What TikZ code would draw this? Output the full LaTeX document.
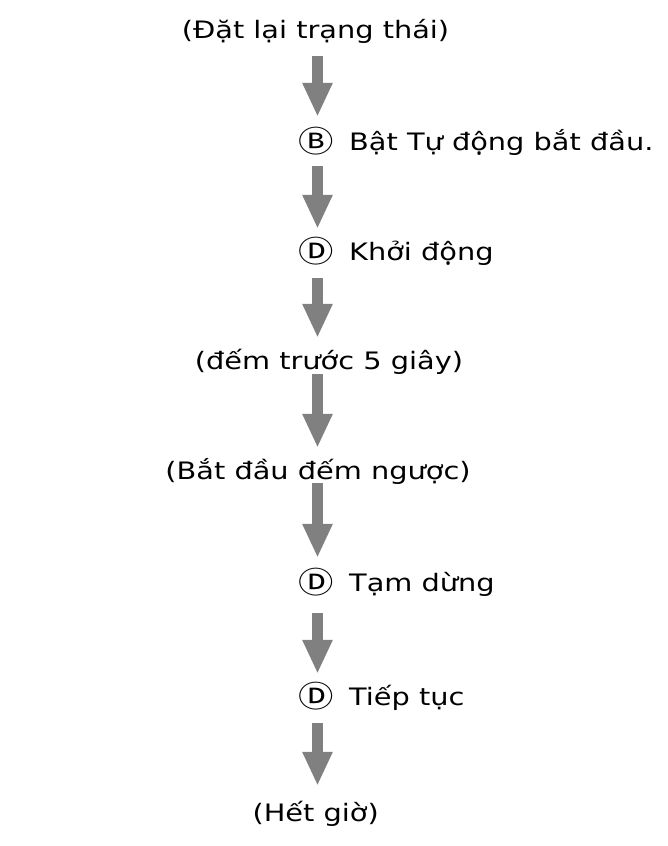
\documentclass[tikz,border=0pt]{standalone}
\usepackage{fontspec}
\setmainfont[FakeStretch=1.2]{DejaVu Sans}
\newfontfamily\keyfont[FakeStretch=1.18]{Noto Sans CJK JP}
\usetikzlibrary{arrows.meta}
\definecolor{arrowGray}{HTML}{808080}
\tikzset{
    StepText/.style={font=\fontsize{24}{29}\selectfont, inner sep=0pt, text height=17pt, text depth=0pt},
    KeyMark/.style={StepText, font=\keyfont\fontsize{30}{36}\selectfont, anchor=base},
    FlowArrow/.style={-{Triangle[length=34pt, width=28pt]}, line width=11pt, draw=arrowGray}
}

\begin{document}
\begin{tikzpicture}[x=1pt, y=-1pt]
    \useasboundingbox (0,0) rectangle (667,846);
    \coordinate (axis) at (317.5,0);

    % status rows
    \node[StepText, anchor=base] (s1) at (315.5,38) {(Đặt lại trạng thái)};
    \node[StepText, anchor=base] (s4) at (329,369) {(đếm trước 5 giây)};
    \node[StepText, anchor=base] (s5) at (318,479) {(Bắt đầu đếm ngược)};
    \node[StepText, anchor=base] (s8) at (315.7,821) {(Hết giờ)};

    % key rows
    \node[KeyMark] (s2) at (316,150) {\raisebox{-2pt}{Ⓑ}};
    \node[StepText, anchor=base west] (t2) at (349,150) {Bật Tự động bắt đầu.};
    \node[KeyMark] (s3) at (316,260) {\raisebox{-2pt}{Ⓓ}};
    \node[StepText, anchor=base west] (t3) at (349,260) {Khởi động};
    \node[KeyMark] (s6) at (316,591) {\raisebox{-2pt}{Ⓓ}};
    \node[StepText, anchor=base west] (t6) at (349,591) {Tạm dừng};
    \node[KeyMark] (s7) at (316,705) {\raisebox{-2pt}{Ⓓ}};
    \node[StepText, anchor=base west] (t7) at (349,705) {Tiếp tục};

    % arrows
    \foreach \a/\b/\pre/\post in {s1/s2/18/16, s2/s3/16/14, s3/s4/18/14, s4/s5/5/14,
                                  s5/s6/4/16, s6/s7/22/14, s7/s8/18/18} {
        \draw[FlowArrow, shorten <=\pre pt, shorten >=\post pt]
            (\a.south -| axis) -- (\b.north -| axis);
    }
\end{tikzpicture}
\end{document}
